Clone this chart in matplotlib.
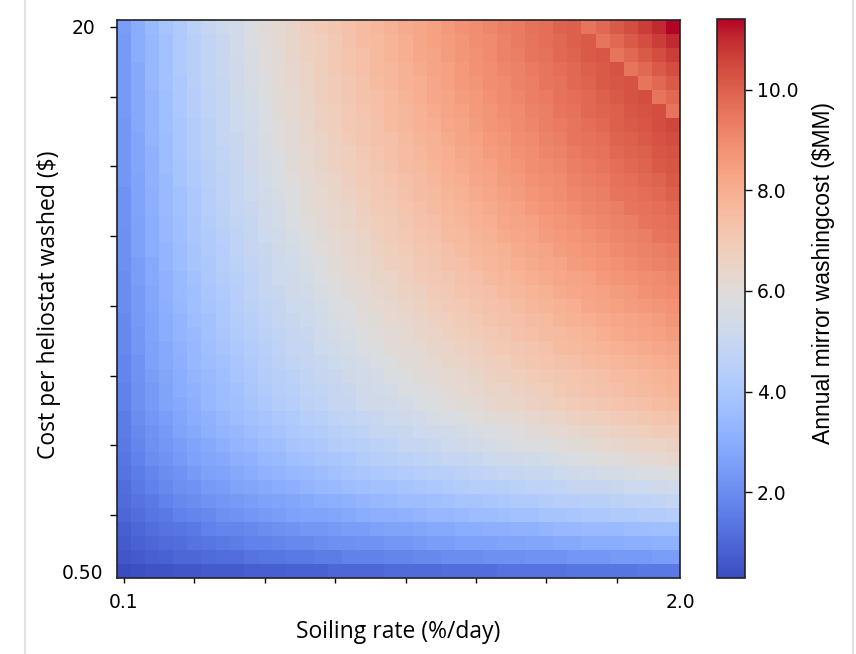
import matplotlib

matplotlib.use("Agg")
import matplotlib.pyplot as plt
import numpy as np
from matplotlib.lines import Line2D

# tick labels shown on the axes
x_tick_labels = ["0.1", "2.0"]
y_tick_labels = ["20", "0.50"]
colorbar_ticks = [2.0, 4.0, 6.0, 8.0, 10.0]

# annual mirror washing cost ($MM)
# rows: cost per heliostat washed, $20 at the top down to $0.50
# columns: soiling rate, 0.1 %/day on the left up to 2.0 %/day
washing_cost = [
    [2.5, 3.0, 3.5, 3.9, 4.2, 4.6, 4.9, 5.2, 5.4, 5.7, 6.0, 6.2, 6.4, 6.7, 6.9, 7.1, 7.3, 7.5, 7.7, 7.9, 8.1, 8.2, 8.4, 8.6, 8.8, 8.9, 9.1, 9.3, 9.4, 9.6, 9.7, 9.9, 10.0, 9.5, 9.8, 10.1, 10.4, 10.7, 11.0, 11.4],
    [2.4, 3.0, 3.4, 3.8, 4.2, 4.5, 4.8, 5.1, 5.4, 5.7, 5.9, 6.2, 6.4, 6.6, 6.8, 7.0, 7.3, 7.5, 7.6, 7.8, 8.0, 8.2, 8.4, 8.5, 8.7, 8.9, 9.0, 9.2, 9.4, 9.5, 9.7, 9.8, 10.0, 10.1, 9.5, 9.8, 10.1, 10.4, 10.7, 11.0],
    [2.4, 3.0, 3.4, 3.8, 4.2, 4.5, 4.8, 5.1, 5.4, 5.6, 5.9, 6.1, 6.4, 6.6, 6.8, 7.0, 7.2, 7.4, 7.6, 7.8, 8.0, 8.2, 8.3, 8.5, 8.7, 8.8, 9.0, 9.2, 9.3, 9.5, 9.6, 9.8, 9.9, 10.1, 10.2, 9.5, 9.8, 10.1, 10.4, 10.7],
    [2.4, 2.9, 3.4, 3.8, 4.2, 4.5, 4.8, 5.1, 5.3, 5.6, 5.9, 6.1, 6.3, 6.5, 6.8, 7.0, 7.2, 7.4, 7.6, 7.7, 7.9, 8.1, 8.3, 8.4, 8.6, 8.8, 8.9, 9.1, 9.2, 9.4, 9.5, 9.7, 9.8, 10.0, 10.1, 10.3, 9.5, 9.8, 10.1, 10.4],
    [2.4, 2.9, 3.4, 3.8, 4.1, 4.5, 4.8, 5.0, 5.3, 5.6, 5.8, 6.1, 6.3, 6.5, 6.7, 6.9, 7.1, 7.3, 7.5, 7.7, 7.9, 8.0, 8.2, 8.4, 8.6, 8.7, 8.9, 9.0, 9.2, 9.3, 9.5, 9.6, 9.8, 9.9, 10.1, 10.2, 10.3, 9.5, 9.8, 10.1],
    [2.4, 2.9, 3.3, 3.7, 4.1, 4.4, 4.7, 5.0, 5.3, 5.5, 5.8, 6.0, 6.2, 6.4, 6.7, 6.9, 7.1, 7.3, 7.4, 7.6, 7.8, 8.0, 8.2, 8.3, 8.5, 8.6, 8.8, 9.0, 9.1, 9.3, 9.4, 9.6, 9.7, 9.8, 10.0, 10.1, 10.3, 10.4, 9.5, 9.8],
    [2.4, 2.9, 3.3, 3.7, 4.1, 4.4, 4.7, 5.0, 5.2, 5.5, 5.7, 6.0, 6.2, 6.4, 6.6, 6.8, 7.0, 7.2, 7.4, 7.6, 7.7, 7.9, 8.1, 8.3, 8.4, 8.6, 8.7, 8.9, 9.0, 9.2, 9.3, 9.5, 9.6, 9.8, 9.9, 10.0, 10.2, 10.3, 10.4, 9.5],
    [2.3, 2.9, 3.3, 3.7, 4.0, 4.3, 4.6, 4.9, 5.2, 5.4, 5.7, 5.9, 6.1, 6.3, 6.6, 6.8, 7.0, 7.1, 7.3, 7.5, 7.7, 7.9, 8.0, 8.2, 8.3, 8.5, 8.7, 8.8, 9.0, 9.1, 9.3, 9.4, 9.5, 9.7, 9.8, 10.0, 10.1, 10.2, 10.4, 10.5],
    [2.3, 2.8, 3.3, 3.6, 4.0, 4.3, 4.6, 4.9, 5.1, 5.4, 5.6, 5.9, 6.1, 6.3, 6.5, 6.7, 6.9, 7.1, 7.3, 7.4, 7.6, 7.8, 7.9, 8.1, 8.3, 8.4, 8.6, 8.7, 8.9, 9.0, 9.2, 9.3, 9.5, 9.6, 9.7, 9.9, 10.0, 10.1, 10.3, 10.4],
    [2.3, 2.8, 3.2, 3.6, 4.0, 4.3, 4.6, 4.8, 5.1, 5.3, 5.6, 5.8, 6.0, 6.2, 6.4, 6.6, 6.8, 7.0, 7.2, 7.4, 7.5, 7.7, 7.9, 8.0, 8.2, 8.3, 8.5, 8.6, 8.8, 8.9, 9.1, 9.2, 9.4, 9.5, 9.6, 9.8, 9.9, 10.0, 10.2, 10.3],
    [2.3, 2.8, 3.2, 3.6, 3.9, 4.2, 4.5, 4.8, 5.0, 5.3, 5.5, 5.7, 6.0, 6.2, 6.4, 6.6, 6.8, 6.9, 7.1, 7.3, 7.5, 7.6, 7.8, 8.0, 8.1, 8.3, 8.4, 8.6, 8.7, 8.9, 9.0, 9.1, 9.3, 9.4, 9.5, 9.7, 9.8, 9.9, 10.1, 10.2],
    [2.3, 2.7, 3.2, 3.5, 3.9, 4.2, 4.5, 4.7, 5.0, 5.2, 5.5, 5.7, 5.9, 6.1, 6.3, 6.5, 6.7, 6.9, 7.0, 7.2, 7.4, 7.5, 7.7, 7.9, 8.0, 8.2, 8.3, 8.5, 8.6, 8.8, 8.9, 9.0, 9.2, 9.3, 9.4, 9.6, 9.7, 9.8, 9.9, 10.1],
    [2.2, 2.7, 3.1, 3.5, 3.8, 4.1, 4.4, 4.7, 4.9, 5.2, 5.4, 5.6, 5.8, 6.0, 6.2, 6.4, 6.6, 6.8, 7.0, 7.1, 7.3, 7.5, 7.6, 7.8, 7.9, 8.1, 8.2, 8.4, 8.5, 8.7, 8.8, 8.9, 9.1, 9.2, 9.3, 9.5, 9.6, 9.7, 9.8, 10.0],
    [2.2, 2.7, 3.1, 3.5, 3.8, 4.1, 4.4, 4.6, 4.9, 5.1, 5.3, 5.5, 5.8, 6.0, 6.2, 6.3, 6.5, 6.7, 6.9, 7.0, 7.2, 7.4, 7.5, 7.7, 7.8, 8.0, 8.1, 8.3, 8.4, 8.6, 8.7, 8.8, 9.0, 9.1, 9.2, 9.3, 9.5, 9.6, 9.7, 9.8],
    [2.2, 2.6, 3.0, 3.4, 3.7, 4.0, 4.3, 4.6, 4.8, 5.0, 5.3, 5.5, 5.7, 5.9, 6.1, 6.3, 6.4, 6.6, 6.8, 6.9, 7.1, 7.3, 7.4, 7.6, 7.7, 7.9, 8.0, 8.2, 8.3, 8.4, 8.6, 8.7, 8.8, 9.0, 9.1, 9.2, 9.3, 9.5, 9.6, 9.7],
    [2.1, 2.6, 3.0, 3.4, 3.7, 4.0, 4.2, 4.5, 4.7, 5.0, 5.2, 5.4, 5.6, 5.8, 6.0, 6.2, 6.3, 6.5, 6.7, 6.9, 7.0, 7.2, 7.3, 7.5, 7.6, 7.8, 7.9, 8.1, 8.2, 8.3, 8.5, 8.6, 8.7, 8.8, 9.0, 9.1, 9.2, 9.3, 9.5, 9.6],
    [2.1, 2.6, 3.0, 3.3, 3.6, 3.9, 4.2, 4.4, 4.7, 4.9, 5.1, 5.3, 5.5, 5.7, 5.9, 6.1, 6.3, 6.4, 6.6, 6.8, 6.9, 7.1, 7.2, 7.4, 7.5, 7.7, 7.8, 7.9, 8.1, 8.2, 8.3, 8.5, 8.6, 8.7, 8.8, 9.0, 9.1, 9.2, 9.3, 9.4],
    [2.1, 2.5, 2.9, 3.3, 3.6, 3.9, 4.1, 4.4, 4.6, 4.8, 5.0, 5.2, 5.4, 5.6, 5.8, 6.0, 6.2, 6.3, 6.5, 6.7, 6.8, 7.0, 7.1, 7.3, 7.4, 7.6, 7.7, 7.8, 8.0, 8.1, 8.2, 8.3, 8.5, 8.6, 8.7, 8.8, 9.0, 9.1, 9.2, 9.3],
    [2.0, 2.5, 2.9, 3.2, 3.5, 3.8, 4.1, 4.3, 4.5, 4.7, 5.0, 5.2, 5.3, 5.5, 5.7, 5.9, 6.1, 6.2, 6.4, 6.5, 6.7, 6.9, 7.0, 7.1, 7.3, 7.4, 7.6, 7.7, 7.8, 8.0, 8.1, 8.2, 8.3, 8.4, 8.6, 8.7, 8.8, 8.9, 9.0, 9.1],
    [2.0, 2.4, 2.8, 3.2, 3.5, 3.7, 4.0, 4.2, 4.4, 4.7, 4.9, 5.1, 5.3, 5.4, 5.6, 5.8, 6.0, 6.1, 6.3, 6.4, 6.6, 6.7, 6.9, 7.0, 7.2, 7.3, 7.4, 7.6, 7.7, 7.8, 7.9, 8.1, 8.2, 8.3, 8.4, 8.5, 8.6, 8.8, 8.9, 9.0],
    [2.0, 2.4, 2.8, 3.1, 3.4, 3.7, 3.9, 4.1, 4.4, 4.6, 4.8, 5.0, 5.2, 5.3, 5.5, 5.7, 5.8, 6.0, 6.2, 6.3, 6.5, 6.6, 6.8, 6.9, 7.0, 7.2, 7.3, 7.4, 7.5, 7.7, 7.8, 7.9, 8.0, 8.2, 8.3, 8.4, 8.5, 8.6, 8.7, 8.8],
    [1.9, 2.4, 2.7, 3.0, 3.3, 3.6, 3.8, 4.1, 4.3, 4.5, 4.7, 4.9, 5.1, 5.2, 5.4, 5.6, 5.7, 5.9, 6.0, 6.2, 6.3, 6.5, 6.6, 6.8, 6.9, 7.0, 7.2, 7.3, 7.4, 7.5, 7.6, 7.8, 7.9, 8.0, 8.1, 8.2, 8.3, 8.4, 8.5, 8.7],
    [1.9, 2.3, 2.7, 3.0, 3.3, 3.5, 3.8, 4.0, 4.2, 4.4, 4.6, 4.8, 5.0, 5.1, 5.3, 5.5, 5.6, 5.8, 5.9, 6.1, 6.2, 6.4, 6.5, 6.6, 6.8, 6.9, 7.0, 7.1, 7.3, 7.4, 7.5, 7.6, 7.7, 7.8, 8.0, 8.1, 8.2, 8.3, 8.4, 8.5],
    [1.9, 2.3, 2.6, 2.9, 3.2, 3.4, 3.7, 3.9, 4.1, 4.3, 4.5, 4.7, 4.9, 5.0, 5.2, 5.4, 5.5, 5.7, 5.8, 6.0, 6.1, 6.2, 6.4, 6.5, 6.6, 6.7, 6.9, 7.0, 7.1, 7.2, 7.3, 7.5, 7.6, 7.7, 7.8, 7.9, 8.0, 8.1, 8.2, 8.3],
    [1.8, 2.2, 2.6, 2.9, 3.1, 3.4, 3.6, 3.8, 4.0, 4.2, 4.4, 4.6, 4.8, 4.9, 5.1, 5.2, 5.4, 5.5, 5.7, 5.8, 6.0, 6.1, 6.2, 6.4, 6.5, 6.6, 6.7, 6.8, 7.0, 7.1, 7.2, 7.3, 7.4, 7.5, 7.6, 7.7, 7.8, 7.9, 8.0, 8.1],
    [1.8, 2.2, 2.5, 2.8, 3.0, 3.3, 3.5, 3.7, 3.9, 4.1, 4.3, 4.5, 4.6, 4.8, 5.0, 5.1, 5.3, 5.4, 5.5, 5.7, 5.8, 6.0, 6.1, 6.2, 6.3, 6.4, 6.6, 6.7, 6.8, 6.9, 7.0, 7.1, 7.2, 7.3, 7.4, 7.5, 7.6, 7.7, 7.8, 7.9],
    [1.7, 2.1, 2.4, 2.7, 3.0, 3.2, 3.4, 3.6, 3.8, 4.0, 4.2, 4.4, 4.5, 4.7, 4.8, 5.0, 5.1, 5.3, 5.4, 5.5, 5.7, 5.8, 5.9, 6.1, 6.2, 6.3, 6.4, 6.5, 6.6, 6.7, 6.8, 7.0, 7.1, 7.2, 7.3, 7.4, 7.5, 7.6, 7.7, 7.8],
    [1.7, 2.1, 2.4, 2.7, 2.9, 3.1, 3.4, 3.6, 3.7, 3.9, 4.1, 4.3, 4.4, 4.6, 4.7, 4.9, 5.0, 5.2, 5.3, 5.4, 5.5, 5.7, 5.8, 5.9, 6.0, 6.1, 6.3, 6.4, 6.5, 6.6, 6.7, 6.8, 6.9, 7.0, 7.1, 7.2, 7.3, 7.4, 7.5, 7.6],
    [1.6, 2.0, 2.3, 2.5, 2.8, 3.0, 3.2, 3.4, 3.6, 3.8, 3.9, 4.1, 4.2, 4.4, 4.5, 4.7, 4.8, 4.9, 5.1, 5.2, 5.3, 5.4, 5.6, 5.7, 5.8, 5.9, 6.0, 6.1, 6.2, 6.3, 6.4, 6.5, 6.6, 6.7, 6.8, 6.9, 7.0, 7.1, 7.2, 7.3],
    [1.6, 1.9, 2.2, 2.4, 2.7, 2.9, 3.1, 3.3, 3.4, 3.6, 3.8, 3.9, 4.1, 4.2, 4.3, 4.5, 4.6, 4.7, 4.9, 5.0, 5.1, 5.2, 5.3, 5.4, 5.5, 5.6, 5.7, 5.8, 5.9, 6.0, 6.1, 6.2, 6.3, 6.4, 6.5, 6.6, 6.7, 6.8, 6.9, 6.9],
    [1.5, 1.8, 2.1, 2.3, 2.5, 2.7, 2.9, 3.1, 3.3, 3.4, 3.6, 3.7, 3.9, 4.0, 4.1, 4.3, 4.4, 4.5, 4.6, 4.7, 4.9, 5.0, 5.1, 5.2, 5.3, 5.4, 5.5, 5.6, 5.7, 5.8, 5.8, 5.9, 6.0, 6.1, 6.2, 6.3, 6.4, 6.5, 6.5, 6.6],
    [1.4, 1.7, 2.0, 2.2, 2.4, 2.6, 2.8, 2.9, 3.1, 3.2, 3.4, 3.5, 3.7, 3.8, 3.9, 4.0, 4.1, 4.3, 4.4, 4.5, 4.6, 4.7, 4.8, 4.9, 5.0, 5.1, 5.2, 5.3, 5.3, 5.4, 5.5, 5.6, 5.7, 5.8, 5.9, 5.9, 6.0, 6.1, 6.2, 6.3],
    [1.3, 1.6, 1.8, 2.0, 2.2, 2.4, 2.6, 2.7, 2.9, 3.0, 3.2, 3.3, 3.4, 3.5, 3.6, 3.8, 3.9, 4.0, 4.1, 4.2, 4.3, 4.4, 4.5, 4.5, 4.6, 4.7, 4.8, 4.9, 5.0, 5.1, 5.1, 5.2, 5.3, 5.4, 5.5, 5.5, 5.6, 5.7, 5.7, 5.8],
    [1.2, 1.5, 1.7, 1.9, 2.1, 2.2, 2.4, 2.5, 2.7, 2.8, 2.9, 3.0, 3.1, 3.3, 3.4, 3.5, 3.6, 3.7, 3.8, 3.8, 3.9, 4.0, 4.1, 4.2, 4.3, 4.4, 4.4, 4.5, 4.6, 4.7, 4.7, 4.8, 4.9, 5.0, 5.0, 5.1, 5.2, 5.2, 5.3, 5.4],
    [1.1, 1.3, 1.5, 1.7, 1.9, 2.0, 2.2, 2.3, 2.4, 2.5, 2.6, 2.7, 2.8, 2.9, 3.0, 3.1, 3.2, 3.3, 3.4, 3.5, 3.6, 3.6, 3.7, 3.8, 3.9, 3.9, 4.0, 4.1, 4.2, 4.2, 4.3, 4.4, 4.4, 4.5, 4.5, 4.6, 4.7, 4.7, 4.8, 4.9],
    [1.0, 1.2, 1.4, 1.5, 1.7, 1.8, 1.9, 2.1, 2.2, 2.3, 2.4, 2.5, 2.6, 2.7, 2.7, 2.8, 2.9, 3.0, 3.1, 3.1, 3.2, 3.3, 3.4, 3.4, 3.5, 3.6, 3.6, 3.7, 3.8, 3.8, 3.9, 3.9, 4.0, 4.1, 4.1, 4.2, 4.2, 4.3, 4.3, 4.4],
    [0.8, 1.0, 1.2, 1.3, 1.4, 1.5, 1.7, 1.8, 1.8, 1.9, 2.0, 2.1, 2.2, 2.3, 2.3, 2.4, 2.5, 2.5, 2.6, 2.7, 2.7, 2.8, 2.9, 2.9, 3.0, 3.0, 3.1, 3.1, 3.2, 3.2, 3.3, 3.4, 3.4, 3.5, 3.5, 3.5, 3.6, 3.6, 3.7, 3.7],
    [0.7, 0.9, 1.0, 1.1, 1.2, 1.3, 1.4, 1.5, 1.6, 1.7, 1.7, 1.8, 1.9, 1.9, 2.0, 2.1, 2.1, 2.2, 2.2, 2.3, 2.3, 2.4, 2.5, 2.5, 2.6, 2.6, 2.6, 2.7, 2.7, 2.8, 2.8, 2.9, 2.9, 3.0, 3.0, 3.0, 3.1, 3.1, 3.2, 3.2],
    [0.6, 0.7, 0.8, 0.9, 1.0, 1.0, 1.1, 1.2, 1.2, 1.3, 1.4, 1.4, 1.5, 1.5, 1.6, 1.6, 1.7, 1.7, 1.7, 1.8, 1.8, 1.9, 1.9, 2.0, 2.0, 2.0, 2.1, 2.1, 2.1, 2.2, 2.2, 2.2, 2.3, 2.3, 2.3, 2.4, 2.4, 2.4, 2.5, 2.5],
    [0.3, 0.4, 0.5, 0.5, 0.6, 0.6, 0.7, 0.7, 0.7, 0.8, 0.8, 0.8, 0.9, 0.9, 0.9, 1.0, 1.0, 1.0, 1.0, 1.1, 1.1, 1.1, 1.1, 1.2, 1.2, 1.2, 1.2, 1.3, 1.3, 1.3, 1.3, 1.3, 1.4, 1.4, 1.4, 1.4, 1.4, 1.5, 1.5, 1.5],
]


def main() -> None:
    plt.rcParams["font.family"] = "DejaVu Sans"
    data = np.asarray(washing_cost)
    n_rows, n_cols = data.shape

    fig = plt.figure(figsize=(8.56, 6.54), dpi=100)
    axis = fig.add_axes([117 / 856, 76 / 654, 563 / 856, 558 / 654])
    cax = fig.add_axes([717 / 856, 76 / 654, 28 / 856, 559 / 654])

    image = axis.imshow(data, cmap="coolwarm", aspect="auto", interpolation="nearest")

    major = list(range(0, n_cols, 5))
    axis.set_xticks(major, [x_tick_labels[0]] + [""] * (len(major) - 1))
    axis.set_xticks([n_cols - 0.5], [x_tick_labels[1]], minor=True)
    axis.set_yticks(major, [y_tick_labels[0]] + [""] * (len(major) - 1))
    axis.set_yticks([n_rows - 1], [y_tick_labels[1]], minor=True)
    axis.tick_params(axis="x", which="major", length=3.5, width=1, pad=7, labelsize=13.5)
    axis.tick_params(axis="x", which="minor", length=0, pad=10.5, labelsize=13.5)
    axis.tick_params(axis="y", which="major", length=5, width=1, pad=10.5, labelsize=13.5)
    axis.tick_params(axis="y", which="minor", length=0, pad=10, labelsize=13.5)
    for spine in axis.spines.values():
        spine.set_linewidth(1.2)
        spine.set_color("#222222")

    axis.set_xlabel("Soiling rate (%/day)", fontsize=16.5, family="Open Sans", va="center")
    axis.xaxis.set_label_coords(0.5, -0.097)
    axis.set_ylabel("Cost per heliostat washed ($)", fontsize=16.5, family="Open Sans", va="center")
    axis.yaxis.set_label_coords(-0.121, 0.49)

    cbar = fig.colorbar(image, cax=cax, ticks=colorbar_ticks, format="%.1f")
    cbar.ax.tick_params(length=5, width=1, pad=3.5, labelsize=13.5)
    cbar.outline.set_linewidth(1.2)
    cbar.outline.set_edgecolor("#222222")
    cbar.set_label("Annual mirror washingcost ($MM)", fontsize=16.5, family="Liberation Sans", va="center")
    cax.yaxis.set_label_coords(3.8, 0.545)

    # faint frame lines at the sides of the original screenshot
    for x in (25 / 856, 853 / 856):
        fig.add_artist(Line2D([x, x], [0, 1], color="#e2e2e2", linewidth=1.5))

    fig.savefig("out.png", dpi=100)
    plt.close(fig)


if __name__ == "__main__":
    main()
